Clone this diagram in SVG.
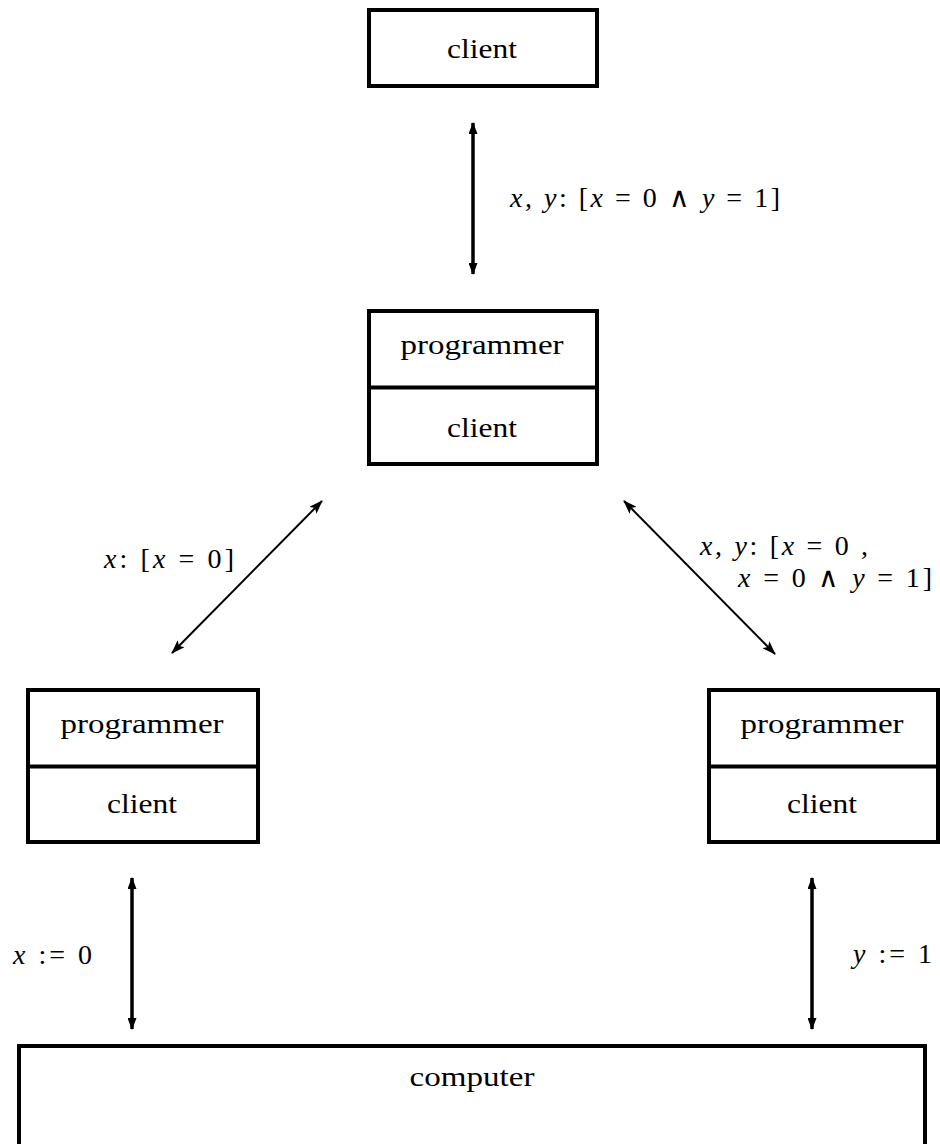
<svg xmlns="http://www.w3.org/2000/svg" width="940" height="1144" viewBox="0 0 940 1144">
  <style>
    .box { fill: #fff; stroke: #000; stroke-width: 4; }
    .div { stroke: #000; stroke-width: 4; }
    .t { font-family: "Liberation Serif", "Times New Roman", Times, serif; font-size: 28px; fill: #000; text-anchor: middle; }
    .m { font-family: "Liberation Serif", "Times New Roman", Times, serif; font-size: 28px; fill: #000; }
    .i { font-style: italic; }
    .thick { stroke: #000; stroke-width: 3.5; fill: none; }
    .thin { stroke: #000; stroke-width: 2; fill: none; }
  </style>
  <defs>
    <marker id="head" viewBox="0 0 12 9" refX="11" refY="4.5" markerWidth="12" markerHeight="9" markerUnits="userSpaceOnUse" orient="auto-start-reverse">
      <path d="M0,0 L12,4.5 L0,9 Z" fill="#000"/>
    </marker>
    <marker id="headS" viewBox="0 0 14 10" refX="13" refY="5" markerWidth="14" markerHeight="10" markerUnits="userSpaceOnUse" orient="auto-start-reverse">
      <path d="M0,0 L14,5 L0,10 L3,5 Z" fill="#000"/>
    </marker>
  </defs>

  <!-- top client -->
  <g id="client-top">
    <rect class="box" x="369" y="10" width="228" height="76"/>
    <text class="t" x="482" y="58" textLength="70" lengthAdjust="spacingAndGlyphs">client</text>
  </g>

  <!-- central programmer/client -->
  <g id="pc-center">
    <rect class="box" x="369" y="311" width="228" height="153"/>
    <line class="div" x1="369" y1="387.5" x2="597" y2="387.5"/>
    <text class="t" x="482" y="354" textLength="163" lengthAdjust="spacingAndGlyphs">programmer</text>
    <text class="t" x="482" y="437" textLength="70" lengthAdjust="spacingAndGlyphs">client</text>
  </g>

  <!-- left programmer/client -->
  <g id="pc-left">
    <rect class="box" x="28" y="690" width="230" height="152"/>
    <line class="div" x1="28" y1="766.5" x2="258" y2="766.5"/>
    <text class="t" x="142" y="733" textLength="163" lengthAdjust="spacingAndGlyphs">programmer</text>
    <text class="t" x="142" y="813" textLength="70" lengthAdjust="spacingAndGlyphs">client</text>
  </g>

  <!-- right programmer/client -->
  <g id="pc-right">
    <rect class="box" x="709" y="690" width="229" height="152"/>
    <line class="div" x1="709" y1="766.5" x2="938" y2="766.5"/>
    <text class="t" x="822" y="733" textLength="163" lengthAdjust="spacingAndGlyphs">programmer</text>
    <text class="t" x="822" y="813" textLength="70" lengthAdjust="spacingAndGlyphs">client</text>
  </g>

  <!-- computer -->
  <g id="computer">
    <rect class="box" x="19" y="1046" width="906" height="130"/>
    <text class="t" x="472" y="1086" textLength="125" lengthAdjust="spacingAndGlyphs">computer</text>
  </g>

  <!-- connectors -->
  <g id="connectors">
    <line class="thick" x1="473" y1="123" x2="473" y2="274" marker-start="url(#head)" marker-end="url(#head)"/>
    <line class="thin" x1="172" y1="653" x2="322" y2="501" marker-start="url(#headS)" marker-end="url(#headS)"/>
    <line class="thin" x1="624" y1="501" x2="775" y2="654" marker-start="url(#headS)" marker-end="url(#headS)"/>
    <line class="thick" x1="132" y1="878" x2="132" y2="1029" marker-start="url(#head)" marker-end="url(#head)"/>
    <line class="thick" x1="812" y1="878" x2="812" y2="1029" marker-start="url(#head)" marker-end="url(#head)"/>
  </g>

  <!-- connector labels -->
  <g id="labels">
    <text class="m" x="510" y="207" textLength="270" lengthAdjust="spacing"><tspan class="i">x</tspan>, <tspan class="i">y</tspan>: [<tspan class="i">x</tspan> = 0 ∧ <tspan class="i">y</tspan> = 1]</text>
    <text class="m" x="104" y="568" textLength="130" lengthAdjust="spacing"><tspan class="i">x</tspan>: [<tspan class="i">x</tspan> = 0]</text>
    <text class="m" x="700" y="555" textLength="168" lengthAdjust="spacing"><tspan class="i">x</tspan>, <tspan class="i">y</tspan>: [<tspan class="i">x</tspan> = 0 ,</text>
    <text class="m" x="738" y="587" textLength="194" lengthAdjust="spacing"><tspan class="i">x</tspan> = 0 ∧ <tspan class="i">y</tspan> = 1]</text>
    <text class="m" x="13" y="964" textLength="79" lengthAdjust="spacing"><tspan class="i">x</tspan> := 0</text>
    <text class="m" x="853" y="963" textLength="79" lengthAdjust="spacing"><tspan class="i">y</tspan> := 1</text>
  </g>
</svg>
